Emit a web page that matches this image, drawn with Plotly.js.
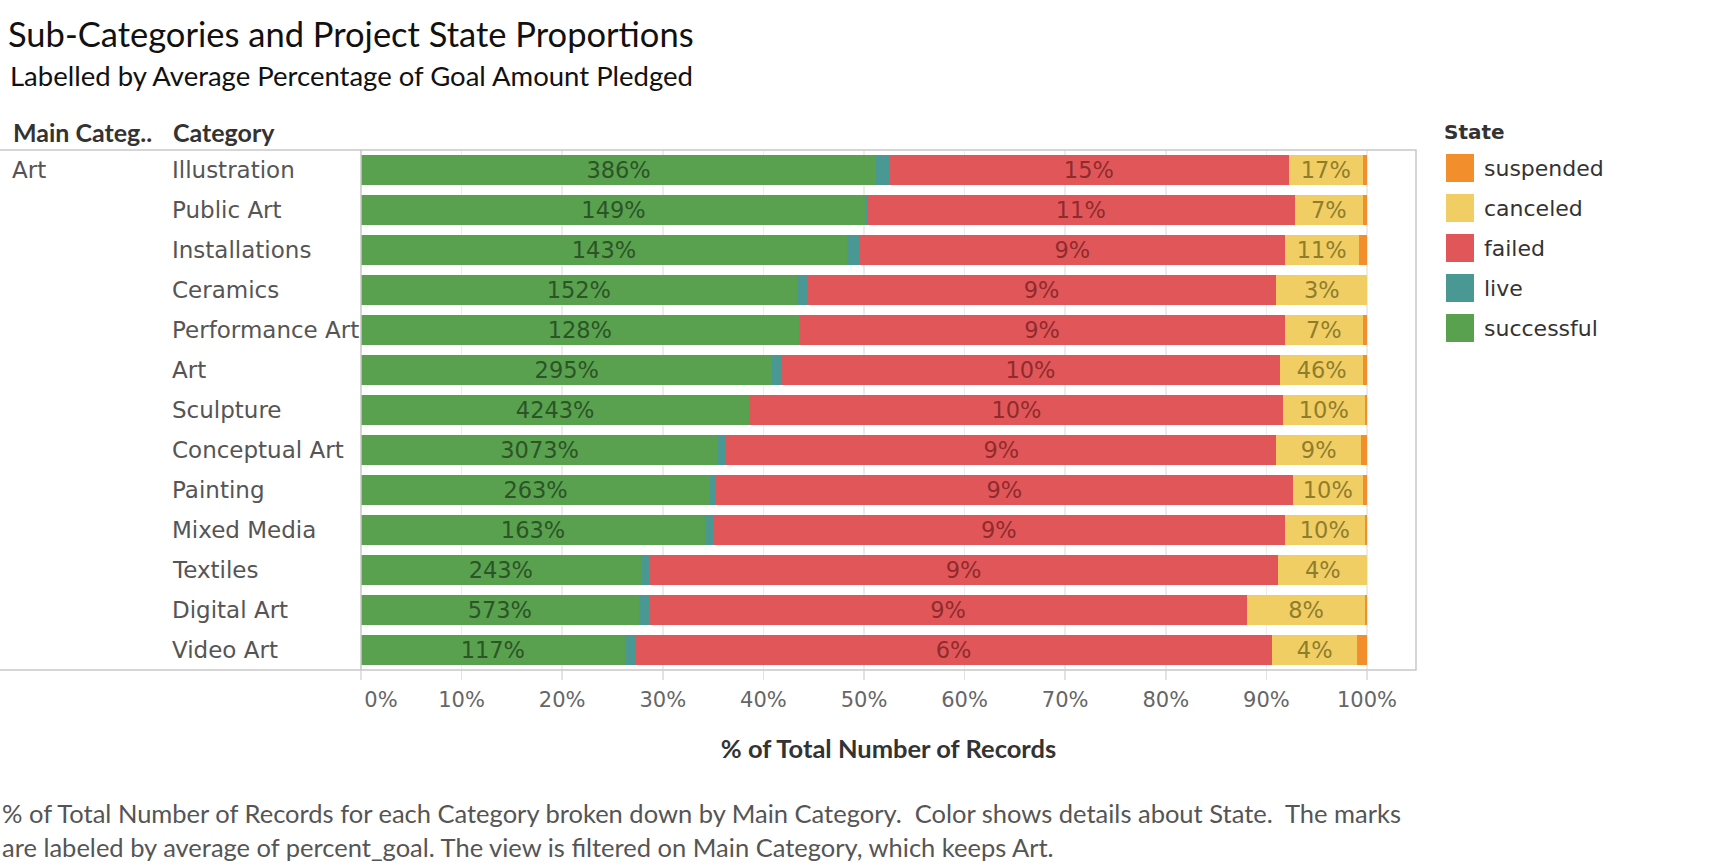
<!DOCTYPE html>
<html>
<head>
<meta charset="utf-8">
<script src="https://cdn.plot.ly/plotly-3.0.1.min.js"></script>
<style>
  html, body { margin: 0; padding: 0; background: #fff; }
  #chart { width: 1720px; height: 866px; }
</style>
</head>
<body>
<div id="chart"></div>
<script>
// ---------- data ----------
const categories = ['Illustration', 'Public Art', 'Installations', 'Ceramics', 'Performance Art', 'Art',
  'Sculpture', 'Conceptual Art', 'Painting', 'Mixed Media', 'Textiles', 'Digital Art', 'Video Art'];
const mainCategory = 'Art';

const successful = [51.2, 50.2, 48.3, 43.3, 43.5, 40.9, 38.6, 35.5, 34.7, 34.2, 27.8, 27.6, 26.2];
const live       = [1.3, 0.1, 1.3, 1.0, 0.1, 0.8, 0.1, 0.8, 0.6, 0.8, 0.8, 1.0, 1.0];
const failed     = [39.7, 42.5, 42.2, 46.7, 48.2, 49.7, 52.9, 54.7, 57.3, 56.8, 62.6, 59.5, 63.4];
const canceled   = [7.4, 6.8, 7.4, 9.0, 7.8, 8.2, 8.2, 8.4, 7.0, 8.0, 8.8, 11.7, 8.4];
const suspended  = [0.4, 0.4, 0.8, 0.0, 0.4, 0.4, 0.2, 0.6, 0.4, 0.2, 0.0, 0.2, 1.0];

const successfulLabels = ['386%', '149%', '143%', '152%', '128%', '295%', '4243%', '3073%', '263%', '163%', '243%', '573%', '117%'];
const failedLabels     = ['15%', '11%', '9%', '9%', '9%', '10%', '10%', '9%', '9%', '9%', '9%', '9%', '6%'];
const canceledLabels   = ['17%', '7%', '11%', '3%', '7%', '46%', '10%', '9%', '10%', '10%', '4%', '8%', '4%'];

const xTickValues = [0, 10, 20, 30, 40, 50, 60, 70, 80, 90, 100];
const xTickLabels = ['\u00a0\u00a0\u00a0\u00a0\u00a0\u00a00%', '10%', '20%', '30%', '40%', '50%', '60%', '70%', '80%', '90%', '100%'];

const legendStates = ['suspended', 'canceled', 'failed', 'live', 'successful'];
const stateColors = {
  successful: '#59A14F', live: '#499894', failed: '#E15759', canceled: '#F1CE63', suspended: '#F28E2B'
};
const labelColors = {
  successful: '#2c5427', failed: '#8f2b2d', canceled: '#8f7d2e'
};

// ---------- layout geometry (pixels) ----------
const W = 1720, H = 866;
const PL = 361, PR = 1416, PT = 150, PB = 670;
const PX = x => (x - PL) / (PR - PL);
const PY = y => (PB - y) / (PB - PT);

const DEJ = 'DejaVu Sans, sans-serif';
const LATO = 'Lato, sans-serif';

function barTrace(name, values, labels) {
  return {
    type: 'bar', orientation: 'h', name: name,
    y: categories, x: values,
    marker: { color: stateColors[name], line: { width: 0 } },
    text: labels || values.map(() => ''),
    textposition: labels ? 'inside' : 'none',
    insidetextanchor: 'middle',
    constraintext: 'none',
    textangle: 0,
    textfont: { family: DEJ, size: 22.5, color: labelColors[name] || '#000' },
    hoverinfo: 'skip',
    showlegend: false
  };
}

const traces = [
  barTrace('successful', successful, successfulLabels),
  barTrace('live', live, null),
  barTrace('failed', failed, failedLabels),
  barTrace('canceled', canceled, canceledLabels),
  barTrace('suspended', suspended, null)
];

const annotations = [];
const shapes = [];

// subtitle
annotations.push({
  xref: 'paper', yref: 'paper', x: PX(8), y: PY(75), xanchor: 'left', yanchor: 'middle',
  text: 'Labelled by Average Percentage of Goal Amount Pledged', showarrow: false,
  font: { family: LATO, size: 27.5, color: '#111' }
});
// row headers
annotations.push({
  xref: 'paper', yref: 'paper', x: PX(11), y: PY(132), xanchor: 'left', yanchor: 'middle',
  text: 'Main Categ..', showarrow: false, font: { family: LATO, size: 25, color: '#333', weight: 700 }
});
annotations.push({
  xref: 'paper', yref: 'paper', x: PX(171), y: PY(132), xanchor: 'left', yanchor: 'middle',
  text: 'Category', showarrow: false, font: { family: LATO, size: 25, color: '#333', weight: 700 }
});
// main category label
annotations.push({
  xref: 'paper', yref: 'y', x: PX(10), y: categories[0], xanchor: 'left', yanchor: 'middle',
  text: mainCategory, showarrow: false, font: { family: DEJ, size: 23, color: '#555' }
});
// category labels
categories.forEach(c => {
  annotations.push({
    xref: 'paper', yref: 'y', x: PX(170), y: c, xanchor: 'left', yanchor: 'middle',
    text: c, showarrow: false, font: { family: DEJ, size: 23, color: '#555' }
  });
});
// footer
annotations.push({
  xref: 'paper', yref: 'paper', x: PX(0), y: PY(813), xanchor: 'left', yanchor: 'middle',
  text: '% of Total Number of Records for each Category broken down by Main Category.  Color shows details about State.  The marks',
  showarrow: false, font: { family: LATO, size: 25.5, color: '#555' }
});
annotations.push({
  xref: 'paper', yref: 'paper', x: PX(0), y: PY(847), xanchor: 'left', yanchor: 'middle',
  text: 'are labeled by average of percent_goal. The view is filtered on Main Category, which keeps Art.',
  showarrow: false, font: { family: LATO, size: 25.5, color: '#555' }
});

// legend (custom, built from state arrays)
annotations.push({
  xref: 'paper', yref: 'paper', x: PX(1442), y: PY(132), xanchor: 'left', yanchor: 'middle',
  text: 'State', showarrow: false, font: { family: DEJ, size: 20, color: '#333', weight: 700 }
});
legendStates.forEach((s, i) => {
  const cy = 168 + i * 40;
  shapes.push({
    type: 'rect', xref: 'paper', yref: 'paper',
    x0: PX(1446), x1: PX(1474), y0: PY(cy - 14), y1: PY(cy + 14),
    fillcolor: stateColors[s], line: { width: 0 }
  });
  annotations.push({
    xref: 'paper', yref: 'paper', x: PX(1482), y: PY(cy), xanchor: 'left', yanchor: 'middle',
    text: s, showarrow: false, font: { family: DEJ, size: 22, color: '#333' }
  });
});

// pane lines
shapes.push({ type: 'line', xref: 'paper', yref: 'paper', x0: PX(0), x1: 0, y0: 1, y1: 1, line: { color: '#c8c8c8', width: 1.5 } });
shapes.push({ type: 'line', xref: 'paper', yref: 'paper', x0: PX(0), x1: 0, y0: 0, y1: 0, line: { color: '#c8c8c8', width: 1.5 } });
shapes.push({ type: 'rect', xref: 'paper', yref: 'paper', x0: 0, x1: 1, y0: 0, y1: 1, line: { color: '#c8c8c8', width: 1.5 }, fillcolor: 'rgba(0,0,0,0)' });

const layout = {
  width: W, height: H,
  margin: { l: PL, r: W - PR, t: PT, b: H - PB, pad: 0 },
  paper_bgcolor: '#ffffff', plot_bgcolor: '#ffffff',
  barmode: 'stack', bargap: 0.25,
  showlegend: false,
  title: {
    text: 'Sub-Categories and Project State Proportions',
    xref: 'container', yref: 'container', x: 8 / W, xanchor: 'left', y: 1 - 35 / H, yanchor: 'middle',
    font: { family: LATO, size: 34.5, color: '#111' }
  },
  xaxis: {
    range: [0, 100 * (PR - PL) / (1367 - PL)],
    tickvals: xTickValues, ticktext: xTickLabels,
    tickfont: { family: DEJ, size: 21, color: '#666' },
    ticks: 'outside', ticklen: 9, tickcolor: '#e2e2e2', tickwidth: 1.5,
    ticklabelstandoff: 2,
    showgrid: true, gridcolor: '#ececec', gridwidth: 1.5,
    zeroline: false, showline: false, fixedrange: true,
    title: { text: '% of Total Number of Records', standoff: 28, font: { family: LATO, size: 25.5, color: '#333', weight: 700 } },
    automargin: false
  },
  yaxis: {
    type: 'category', categoryarray: categories, range: [categories.length - 0.5, -0.5],
    showticklabels: false, showgrid: false, zeroline: false, showline: false, ticks: '', fixedrange: true,
    automargin: false
  },
  annotations: annotations,
  shapes: shapes
};

Plotly.newPlot('chart', traces, layout, { displayModeBar: false, staticPlot: true });
</script>
</body>
</html>
